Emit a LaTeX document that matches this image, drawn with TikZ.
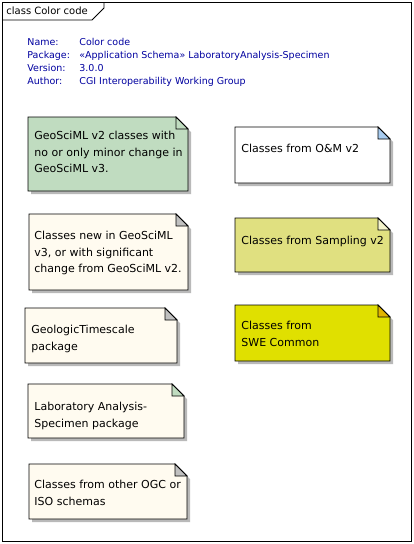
\documentclass[tikz,border=0pt]{standalone}
\usepackage{fontspec}
\setmainfont{DejaVu Sans}
\definecolor{metablue}{RGB}{0,0,160}
\definecolor{gsmlgreen}{RGB}{192,220,192}
\definecolor{gsmlcream}{RGB}{255,251,240}
\definecolor{foldgray}{RGB}{192,192,192}
\definecolor{omblue}{RGB}{168,204,240}
\definecolor{samplyellow}{RGB}{224,224,128}
\definecolor{samplfold}{RGB}{245,245,205}
\definecolor{swefill}{RGB}{224,224,0}
\definecolor{swefold}{RGB}{224,180,0}
\definecolor{shadowgray}{RGB}{185,185,185}
% note with folded corner: name, x1, y1, x2, y2, fill, fold
\newcommand{\colornote}[7]{%
  \fill[shadowgray, shift={(3,3)}] (#2,#3) -- (#4-12,#3) -- (#4,#3+12) -- (#4,#5) -- (#2,#5) -- cycle;
  \filldraw[fill=#6] (#2,#3) -- (#4-12,#3) -- (#4,#3+12) -- (#4,#5) -- (#2,#5) -- cycle;
  \filldraw[fill=#7] (#4-12,#3) -- (#4-12,#3+12) -- (#4,#3+12) -- cycle;
  \coordinate (#1) at (#2,#3);
}
\begin{document}
\begin{tikzpicture}[x=1pt, y=-1pt, line width=0.8pt,
  metatxt/.style={anchor=base west, inner sep=0pt, text=metablue, font=\fontsize{9.5}{11}\selectfont},
  notetxt/.style={anchor=north west, inner sep=0pt, align=left, font=\fontsize{11}{16.5}\selectfont}]
  \useasboundingbox[fill=white] (0,0) rectangle (414,544);
  %frame
  \draw (2,2) rectangle (411,541);
  \draw (2,20) -- (92,20) -- (104,8) -- (104,2);
  \node[anchor=base west, inner sep=0pt, font=\fontsize{10}{12}\selectfont] (title) at (6,14) {class Color code};
  %header
  \node[metatxt] (namelbl) at (27,45) {Name:};
  \node[metatxt] (pkglbl) at (27,58) {Package:};
  \node[metatxt] (verlbl) at (27,71) {Version:};
  \node[metatxt] (authlbl) at (27,84) {Author:};
  \node[metatxt] (nameval) at (79,45) {Color code};
  \node[metatxt] (pkgval) at (79,58) {«Application Schema» LaboratoryAnalysis-Specimen};
  \node[metatxt] (verval) at (79,71) {3.0.0};
  \node[metatxt] (authval) at (79,84) {CGI Interoperability Working Group};
  %notes, left column
  \colornote{unchanged}{28}{117}{188}{191}{gsmlgreen}{gsmlgreen}
  \colornote{newcls}{29}{214}{188}{290}{gsmlcream}{foldgray}
  \colornote{gts}{25}{308}{177}{363}{gsmlcream}{foldgray}
  \colornote{las}{28}{384}{184}{438}{gsmlcream}{gsmlgreen}
  \colornote{other}{29}{464}{187}{519}{gsmlcream}{foldgray}
  %notes, right column
  \colornote{om}{235}{127}{390}{183}{white}{omblue}
  \colornote{sampl}{235}{218}{390}{272}{samplyellow}{samplfold}
  \colornote{swe}{235}{305}{390}{361}{swefill}{swefold}
  %texts
  \node[notetxt] (unchangedtxt) at ([shift={(6,14)}]unchanged) {GeoSciML v2 classes with\\no or only minor change in\\GeoSciML v3.};
  \node[notetxt] (newclstxt) at ([shift={(5,17)}]newcls) {Classes new in GeoSciML\\v3, or with significant\\change from GeoSciML v2.};
  \node[notetxt] (gtstxt) at ([shift={(6,17)}]gts) {GeologicTimescale\\package};
  \node[notetxt] (lastxt) at ([shift={(6,18)}]las) {Laboratory Analysis-\\Specimen package};
  \node[notetxt] (othertxt) at ([shift={(5,16)}]other) {Classes from other OGC or\\ISO schemas};
  \node[notetxt] (omtxt) at ([shift={(6,17)}]om) {Classes from O\&M v2};
  \node[notetxt] (sampltxt) at ([shift={(6,18)}]sampl) {Classes from Sampling v2};
  \node[notetxt] (swetxt) at ([shift={(6,16)}]swe) {Classes from\\SWE Common};
\end{tikzpicture}
\end{document}
